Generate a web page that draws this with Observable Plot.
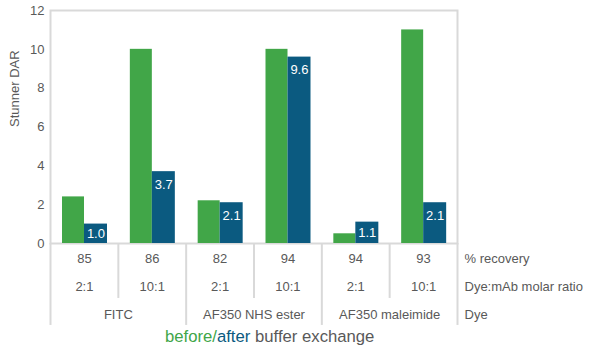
<!DOCTYPE html>
<html>
<head>
<meta charset="utf-8">
<script src="https://cdn.jsdelivr.net/npm/d3@7"></script>
<script src="https://cdn.jsdelivr.net/npm/@observablehq/plot@0.6"></script>
<style>
  body { margin: 0; background: #fff; font-family: "Liberation Sans", Arial, sans-serif; }
  #legend { margin-left: 165px; font-size: 16.7px; line-height: 20px; color: #595959; white-space: nowrap; }
</style>
</head>
<body>
<div id="chart"></div>
<div id="legend"><span style="color:#41a648">before/</span><span style="color:#0b5a80">after</span> buffer exchange</div>
<script>
const dyes = ["FITC", "FITC", "AF350 NHS ester", "AF350 NHS ester", "AF350 maleimide", "AF350 maleimide"];
const ratios = ["2:1", "10:1", "2:1", "10:1", "2:1", "10:1"];
const recovery = [85, 86, 82, 94, 94, 93];
const before = [2.4, 10, 2.2, 10, 0.5, 11];
const after = [1.0, 3.7, 2.1, 9.6, 1.1, 2.1];
const rowLabels = ["% recovery", "Dye:mAb molar ratio", "Dye"];
const yTicks = [0, 2, 4, 6, 8, 10, 12];

const rows = dyes.map((dye, i) => ({
  id: dye + " " + ratios[i], dye, ratio: ratios[i], recovery: recovery[i],
  before: before[i], after: after[i], groupStart: i % 2 === 0
}));
const ids = rows.map(d => d.id);

const W = 600, H = 327, ML = 50, MR = 143, MT = 10, MB = 84;
const bw = (W - ML - MR) / ids.length;
const grid = "#d9d9d9", txt = "#595959";
const green = "#41a648", blue = "#0b5a80";
const rowY = [-0.77, -2.21, -3.66];
const pxPerUnit = (H - MT - MB) / 12;

const chart = Plot.plot({
  width: W, height: H,
  marginLeft: ML, marginRight: MR, marginTop: MT, marginBottom: MB,
  style: { fontFamily: "'Liberation Sans', Arial, sans-serif", fontSize: "13px", color: txt },
  x: { domain: ids, padding: 0, round: false, axis: null },
  y: { domain: [0, 12], axis: null },
  marks: [
    Plot.frame({ stroke: grid, strokeWidth: 2 }),
    Plot.barY(rows, { x: "id", y: "before", fill: green, insetLeft: 12, insetRight: bw - 34 }),
    Plot.barY(rows, { x: "id", y: "after", fill: blue, insetLeft: 34, insetRight: bw - 57 }),
    Plot.text(rows, { x: "id", y: d => Math.max(d.after - 13 / pxPerUnit, d.after / 2), text: d => d.after.toFixed(1), fill: "white", dx: 11.5, fontSize: 13 }),
    Plot.axisY({ ticks: yTicks, tickSize: 0, tickPadding: 6, label: null, fill: txt, fontSize: 13 }),
    Plot.text(["Stunner DAR"], { frameAnchor: "left", y: () => 6, dx: -36, rotate: -90, text: d => d, fill: txt, fontSize: 13 }),
    // table separators
    Plot.ruleX(rows, { x: "id", dx: -bw / 2, y1: () => 0, y2: d => d.groupStart ? -4.22 : -2.83, stroke: grid, strokeWidth: 2 }),
    Plot.ruleX(rows.slice(-1), { x: "id", dx: bw / 2, y1: () => 0, y2: () => -4.22, stroke: grid, strokeWidth: 2 }),
    // table rows
    Plot.text(rows, { x: "id", y: () => rowY[0], text: d => String(d.recovery), fill: txt, fontSize: 13 }),
    Plot.text(rows, { x: "id", y: () => rowY[1], text: "ratio", fill: txt, fontSize: 13 }),
    Plot.text(rows.filter(d => d.groupStart), { x: "id", y: () => rowY[2], text: "dye", dx: bw / 2, fill: txt, fontSize: 13 }),
    Plot.text(rowLabels, { frameAnchor: "right", y: (d, i) => rowY[i], text: d => d, textAnchor: "start", dx: 7, fill: txt, fontSize: 13 })
  ]
});
document.getElementById("chart").appendChild(chart);
</script>
</body>
</html>
